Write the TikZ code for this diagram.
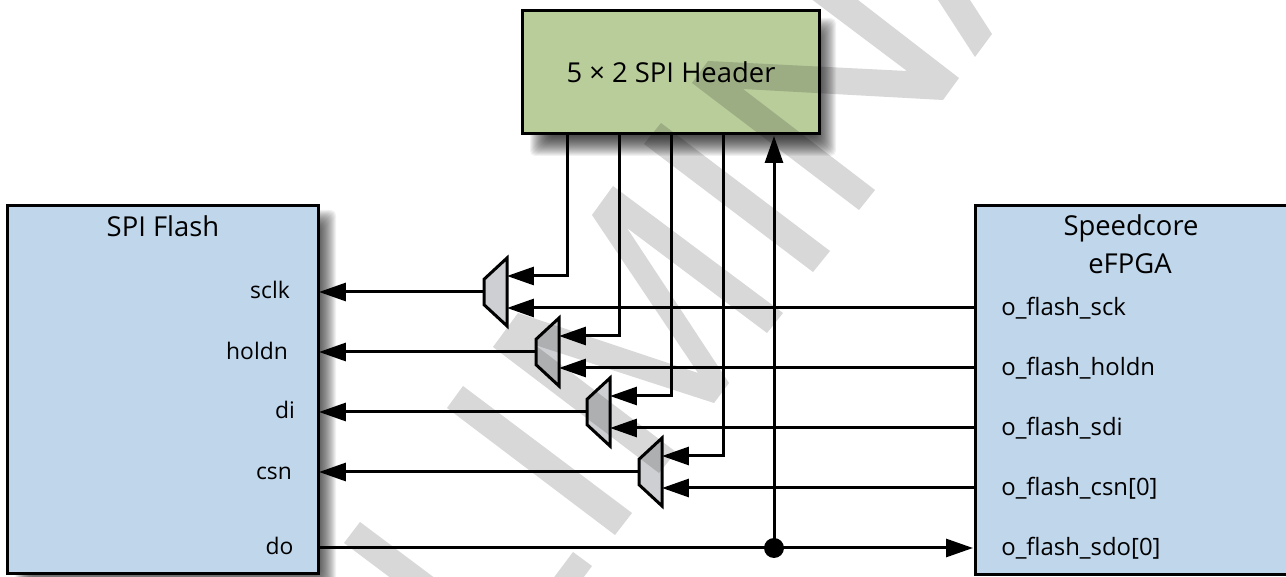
\documentclass[tikz,border=0pt]{standalone}
\usepackage{fontspec}
\setmainfont{Open Sans}
\usetikzlibrary{arrows.meta,shapes.geometric}
\definecolor{flashblue}{RGB}{191,214,235}
\definecolor{hdrgreen}{RGB}{185,205,155}
\definecolor{muxgray}{RGB}{205,207,210}
\definecolor{wmgray}{RGB}{216,216,216}
\begin{document}
\begin{tikzpicture}[x = 0.02cm,y = -0.02cm,>={Triangle[length=0.54cm,width=0.36cm]},
  blk/.style = {draw,line width = 0.06cm,inner sep = 0pt,outer sep = 0pt},
  lbl/.style = {anchor = base,inner sep = 0pt,font = \fontsize{13}{16}\selectfont},
  ttl/.style = {anchor = base,inner sep = 0pt,font = \fontsize{15.6}{18}\selectfont},
  pinlbl/.style = {anchor = base west,inner sep = 0pt,font = \fontsize{13.6}{16}\selectfont},
  mux/.style = {draw,fill = muxgray,line width = 0.06cm,trapezium,shape border rotate = 90,trapezium stretches = true,
    trapezium left angle = 50,trapezium right angle = 50,minimum width = 1.36cm,minimum height = 0.46cm,inner sep = 1pt,outer sep = 0pt},
  sig/.style = {line width = 0.06cm},
  wm/.style = {fill = wmgray}]
\useasboundingbox (0,0) rectangle (1286,577);
\fill[white] (0,0) rectangle (1286,577);
% shadows
\foreach \e in {0,1,...,22} {\fill[black,opacity = 0.05,rounded corners = 0.1cm] (530+\e,18+\e) rectangle (836-\e,156-\e);}
\foreach \e in {0,1,...,22} {\fill[black,opacity = 0.05,rounded corners = 0.1cm] (15+\e,210+\e) rectangle (336-\e,590-\e);}
% blocks
\node[blk,fill = hdrgreen,minimum width = 5.96cm,minimum height = 2.48cm] (hdr) at (671,72) {};
\node[blk,fill = flashblue,minimum width = 6.24cm,minimum height = 7.38cm] (flash) at (163,389.5) {};
\node[blk,fill = flashblue,minimum width = 6.5cm,minimum height = 7.4cm] (core) at (1137.5,390) {};
\node[ttl] (hdrtxt) at (671,83) {5 × 2 SPI Header};
\node[ttl] (flashtxt) at (163,237) {SPI Flash};
\node[ttl] (coretxt) at (1131,236) {Speedcore};
\node[ttl] (coretxtb) at (1130,274) {eFPGA};
\node[lbl] (lsclk) at (270,299) {sclk};
\node[lbl] (lholdn) at (257,360) {holdn};
\node[lbl] (ldi) at (285,419) {di};
\node[lbl] (lcsn) at (274,480) {csn};
\node[lbl] (ldo) at (279.5,555) {do};
\node[pinlbl] (psck) at (1001,316) {o\_flash\_sck};
\node[pinlbl] (pholdn) at (1001,376) {o\_flash\_holdn};
\node[pinlbl] (psdi) at (1001,436) {o\_flash\_sdi};
\node[pinlbl] (pcsn) at (1001,496) {o\_flash\_csn[0]};
\node[pinlbl] (psdo) at (1001,556) {o\_flash\_sdo[0]};
% muxes
\node[mux] (muxA) at (495.5,292) {};
\node[mux] (muxB) at (547.5,352) {};
\node[mux] (muxC) at (598.5,412) {};
\node[mux] (muxD) at (650.5,472) {};
\coordinate (hdrA) at (567,134);\coordinate (hdrB) at (619,134);\coordinate (hdrC) at (671,134);\coordinate (hdrD) at (723,134);\coordinate (hdrE) at (774,136);
\coordinate (coreA) at (975,308);\coordinate (coreB) at (975,368);\coordinate (coreC) at (975,428);\coordinate (coreD) at (975,488);\coordinate (coreE) at (973,548);
\coordinate (flashE) at (319,548);
\node[circle,fill = black,minimum size = 0.4cm,inner sep = 0pt] (tap) at (774,548) {};
% connectors
\draw[sig,->] (muxA.west) -- (muxA.west -| flash.east);
\draw[sig,->] (muxB.west) -- (muxB.west -| flash.east);
\draw[sig,->] (muxC.west) -- (muxC.west -| flash.east);
\draw[sig,->] (muxD.west) -- (muxD.west -| flash.east);
\draw[sig,->] (hdrA) |- ([shift={(0,-16)}]muxA.east);
\draw[sig,->] (hdrB) |- ([shift={(0,-16)}]muxB.east);
\draw[sig,->] (hdrC) |- ([shift={(0,-16)}]muxC.east);
\draw[sig,->] (hdrD) |- ([shift={(0,-16)}]muxD.east);
\draw[sig,->] (coreA) -- ([shift={(0,16)}]muxA.east);
\draw[sig,->] (coreB) -- ([shift={(0,16)}]muxB.east);
\draw[sig,->] (coreC) -- ([shift={(0,16)}]muxC.east);
\draw[sig,->] (coreD) -- ([shift={(0,16)}]muxD.east);
\draw[sig,->] (flashE) -- (coreE);
\draw[sig,->] (tap.center) -- (hdrE);
% watermark
\begin{scope}[blend mode = multiply]
\fill[wm] (813,0) -- (858,0) -- (959,78) -- (943,100) -- (743,89) -- (875,190) -- (859,210) -- (692,83) -- (708,61) -- (907,71) -- (790,-17) -- cycle;
\fill[wm] (938,0) -- (970,0) -- (992,34) -- (975,57) -- cycle;
\fill[wm] (661,123) -- (830,251) -- (813,272) -- (644,144) -- cycle;
\fill[wm] (613,186) -- (783,313) -- (767,333) -- (627,228) -- (729,383) -- (714,403) -- (535,345) -- (676,452) -- (659,473) -- (493,347) -- (518,313) -- (698,373) -- (592,215) -- cycle;
\fill[wm] (463,386) -- (632,513) -- (615,535) -- (447,408) -- cycle;
\fill[wm] (360,522) -- (460,597) -- (444,618) -- (344,543) -- cycle;
\fill[wm] (573,552) -- (592,566) -- (532,647) -- (513,632) -- cycle;
\end{scope}
\end{tikzpicture}
\end{document}
